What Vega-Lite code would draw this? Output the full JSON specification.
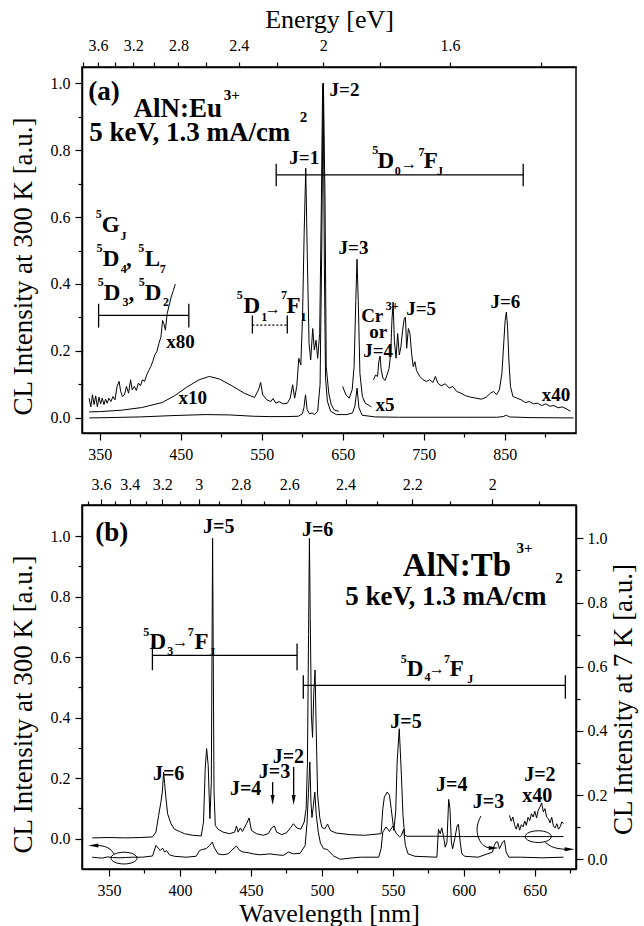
{
  "$schema": "https://vega.github.io/schema/vega-lite/v6.json",
  "padding": {"left": 8, "top": 5, "right": 2, "bottom": 5},
  "background": "white",
  "config": {
    "font": "Liberation Serif",
    "view": {"stroke": "black", "strokeWidth": 1.5},
    "axis": {"labelFontSize": 16, "titleFontSize": 26, "titleFontWeight": "normal", "labelFont": "Liberation Serif", "titleFont": "Liberation Serif", "domainColor": "black", "domainWidth": 1.5, "tickColor": "black", "tickWidth": 1.2, "labelColor": "black", "titleColor": "black", "grid": false},
    "text": {"font": "Liberation Serif", "fontWeight": "bold", "color": "black", "align": "left", "baseline": "middle"},
    "line": {"color": "black", "strokeWidth": 1},
    "rule": {"color": "black", "strokeWidth": 1.3}
  },
  "datasets": {
    "eu": [
      {"s":"x1","wl":337,"v":0},{"s":"x1","wl":360,"v":0.001},{"s":"x1","wl":400,"v":0.003},{"s":"x1","wl":440,"v":0.007},{"s":"x1","wl":480,"v":0.01},{"s":"x1","wl":510,"v":0.009},{"s":"x1","wl":540,"v":0.005},{"s":"x1","wl":560,"v":0.004},{"s":"x1","wl":580,"v":0.004},{"s":"x1","wl":595,"v":0.005},{"s":"x1","wl":600,"v":0.012},{"s":"x1","wl":602,"v":0.03},{"s":"x1","wl":604,"v":0.069},{"s":"x1","wl":606,"v":0.025},{"s":"x1","wl":609,"v":0.012},{"s":"x1","wl":612,"v":0.015},{"s":"x1","wl":615,"v":0.01},{"s":"x1","wl":619,"v":0.02},{"s":"x1","wl":622,"v":0.1},{"s":"x1","wl":624,"v":0.5},{"s":"x1","wl":625.8,"v":1.0},{"s":"x1","wl":627.3,"v":0.45},{"s":"x1","wl":628.7,"v":0.12},{"s":"x1","wl":631,"v":0.05},{"s":"x1","wl":635,"v":0.02},{"s":"x1","wl":642,"v":0.01},{"s":"x1","wl":655,"v":0.01},{"s":"x1","wl":662,"v":0.015},{"s":"x1","wl":665,"v":0.035},{"s":"x1","wl":667.6,"v":0.089},{"s":"x1","wl":670,"v":0.03},{"s":"x1","wl":674,"v":0.008},{"s":"x1","wl":690,"v":0.003},{"s":"x1","wl":720,"v":0.002},{"s":"x1","wl":760,"v":0.002},{"s":"x1","wl":800,"v":0.002},{"s":"x1","wl":840,"v":0.002},{"s":"x1","wl":848,"v":0.004},{"s":"x1","wl":852,"v":0.008},{"s":"x1","wl":856,"v":0.003},{"s":"x1","wl":880,"v":0.001},{"s":"x1","wl":935,"v":0},
      {"s":"x10","wl":336.8,"v":0.018},{"s":"x10","wl":351,"v":0.019},{"s":"x10","wl":376.3,"v":0.023},{"s":"x10","wl":401.7,"v":0.031},{"s":"x10","wl":427,"v":0.046},{"s":"x10","wl":442.2,"v":0.066},{"s":"x10","wl":457.4,"v":0.092},{"s":"x10","wl":472.6,"v":0.114},{"s":"x10","wl":485.3,"v":0.124},{"s":"x10","wl":497.9,"v":0.116},{"s":"x10","wl":513.1,"v":0.096},{"s":"x10","wl":528.3,"v":0.074},{"s":"x10","wl":541,"v":0.061},{"s":"x10","wl":546,"v":0.084},{"s":"x10","wl":548.6,"v":0.106},{"s":"x10","wl":551.1,"v":0.069},{"s":"x10","wl":556.2,"v":0.054},{"s":"x10","wl":561.2,"v":0.049},{"s":"x10","wl":563.8,"v":0.058},{"s":"x10","wl":567.3,"v":0.044},{"s":"x10","wl":571.4,"v":0.049},{"s":"x10","wl":576.4,"v":0.042},{"s":"x10","wl":581.5,"v":0.044},{"s":"x10","wl":585.1,"v":0.059},{"s":"x10","wl":588.1,"v":0.099},{"s":"x10","wl":590.6,"v":0.059},{"s":"x10","wl":593.2,"v":0.094},{"s":"x10","wl":595.7,"v":0.178},{"s":"x10","wl":598.2,"v":0.158},{"s":"x10","wl":600.3,"v":0.301},{"s":"x10","wl":602.3,"v":0.548},{"s":"x10","wl":604.3,"v":0.746},{"s":"x10","wl":606.3,"v":0.469},{"s":"x10","wl":608.4,"v":0.222},{"s":"x10","wl":610.4,"v":0.173},{"s":"x10","wl":612.9,"v":0.267},{"s":"x10","wl":614.9,"v":0.203},{"s":"x10","wl":617,"v":0.232},{"s":"x10","wl":619,"v":0.178},{"s":"x10","wl":621.5,"v":0.252},{"s":"x10","wl":623.6,"v":0.647},{"s":"x10","wl":625.1,"v":0.993},{"s":"x10","wl":626.1,"v":1.0},{"s":"x10","wl":628.1,"v":0.647},{"s":"x10","wl":629.6,"v":0.153},{"s":"x10","wl":632.7,"v":0.074},{"s":"x10","wl":635.7,"v":0.04},{"s":"x10","wl":639.8,"v":0.023},{"s":"x10","wl":645,"v":0.02},
      {"s":"x5","wl":649.9,"v":0.094},{"s":"x5","wl":653.9,"v":0.069},{"s":"x5","wl":658,"v":0.059},{"s":"x5","wl":661.6,"v":0.084},{"s":"x5","wl":664,"v":0.153},{"s":"x5","wl":666.1,"v":0.351},{"s":"x5","wl":667.6,"v":0.474},{"s":"x5","wl":669.1,"v":0.351},{"s":"x5","wl":671.2,"v":0.133},{"s":"x5","wl":674.2,"v":0.064},{"s":"x5","wl":677.8,"v":0.044},{"s":"x5","wl":682.8,"v":0.037},{"s":"x5","wl":685.4,"v":0.033},
      {"s":"x80","wl":336.8,"v":0.059},{"s":"x80","wl":338.9,"v":0.033},{"s":"x80","wl":340.9,"v":0.069},{"s":"x80","wl":342.9,"v":0.04},{"s":"x80","wl":344.9,"v":0.066},{"s":"x80","wl":347,"v":0.033},{"s":"x80","wl":349,"v":0.062},{"s":"x80","wl":351,"v":0.042},{"s":"x80","wl":353,"v":0.059},{"s":"x80","wl":355.1,"v":0.04},{"s":"x80","wl":357.1,"v":0.056},{"s":"x80","wl":359.1,"v":0.044},{"s":"x80","wl":361.1,"v":0.059},{"s":"x80","wl":363.7,"v":0.049},{"s":"x80","wl":366.2,"v":0.064},{"s":"x80","wl":368.7,"v":0.054},{"s":"x80","wl":371.3,"v":0.094},{"s":"x80","wl":373.8,"v":0.109},{"s":"x80","wl":375.8,"v":0.079},{"s":"x80","wl":377.9,"v":0.064},{"s":"x80","wl":380.4,"v":0.069},{"s":"x80","wl":382.9,"v":0.094},{"s":"x80","wl":385.5,"v":0.074},{"s":"x80","wl":388,"v":0.114},{"s":"x80","wl":390,"v":0.084},{"s":"x80","wl":392.6,"v":0.094},{"s":"x80","wl":395.1,"v":0.082},{"s":"x80","wl":397.6,"v":0.104},{"s":"x80","wl":400.2,"v":0.096},{"s":"x80","wl":402.7,"v":0.114},{"s":"x80","wl":405.2,"v":0.109},{"s":"x80","wl":407.8,"v":0.128},{"s":"x80","wl":410.3,"v":0.141},{"s":"x80","wl":412.8,"v":0.153},{"s":"x80","wl":415.3,"v":0.168},{"s":"x80","wl":417.9,"v":0.188},{"s":"x80","wl":420.4,"v":0.198},{"s":"x80","wl":422.9,"v":0.222},{"s":"x80","wl":425.5,"v":0.242},{"s":"x80","wl":427.5,"v":0.291},{"s":"x80","wl":429,"v":0.282},{"s":"x80","wl":431,"v":0.262},{"s":"x80","wl":433.1,"v":0.311},{"s":"x80","wl":435.6,"v":0.336},{"s":"x80","wl":438.1,"v":0.361},{"s":"x80","wl":440.7,"v":0.38},{"s":"x80","wl":443.2,"v":0.4},
      {"s":"x40","wl":687.9,"v":0.114},{"s":"x40","wl":690.4,"v":0.128},{"s":"x40","wl":693,"v":0.124},{"s":"x40","wl":694.5,"v":0.168},{"s":"x40","wl":696,"v":0.185},{"s":"x40","wl":697.5,"v":0.143},{"s":"x40","wl":699.6,"v":0.119},{"s":"x40","wl":702.1,"v":0.112},{"s":"x40","wl":704.6,"v":0.128},{"s":"x40","wl":707.2,"v":0.148},{"s":"x40","wl":709.2,"v":0.193},{"s":"x40","wl":710.7,"v":0.291},{"s":"x40","wl":712.2,"v":0.346},{"s":"x40","wl":713.7,"v":0.232},{"s":"x40","wl":715.8,"v":0.178},{"s":"x40","wl":717.8,"v":0.252},{"s":"x40","wl":719.8,"v":0.188},{"s":"x40","wl":721.8,"v":0.212},{"s":"x40","wl":723.9,"v":0.262},{"s":"x40","wl":725.9,"v":0.296},{"s":"x40","wl":727.4,"v":0.301},{"s":"x40","wl":728.9,"v":0.208},{"s":"x40","wl":731,"v":0.267},{"s":"x40","wl":733,"v":0.252},{"s":"x40","wl":735,"v":0.193},{"s":"x40","wl":737,"v":0.153},{"s":"x40","wl":739.1,"v":0.168},{"s":"x40","wl":741.1,"v":0.141},{"s":"x40","wl":745.1,"v":0.124},{"s":"x40","wl":749.2,"v":0.114},{"s":"x40","wl":753.2,"v":0.109},{"s":"x40","wl":757.3,"v":0.114},{"s":"x40","wl":761.3,"v":0.106},{"s":"x40","wl":764.4,"v":0.124},{"s":"x40","wl":767.4,"v":0.104},{"s":"x40","wl":771.5,"v":0.096},{"s":"x40","wl":776.5,"v":0.102},{"s":"x40","wl":781.6,"v":0.089},{"s":"x40","wl":785.7,"v":0.094},{"s":"x40","wl":790.7,"v":0.079},{"s":"x40","wl":795.8,"v":0.074},{"s":"x40","wl":801.9,"v":0.066},{"s":"x40","wl":808,"v":0.062},{"s":"x40","wl":814.5,"v":0.059},{"s":"x40","wl":821.1,"v":0.056},{"s":"x40","wl":827.2,"v":0.062},{"s":"x40","wl":832.3,"v":0.074},{"s":"x40","wl":836.3,"v":0.079},{"s":"x40","wl":839.9,"v":0.069},{"s":"x40","wl":843.4,"v":0.084},{"s":"x40","wl":846.5,"v":0.133},{"s":"x40","wl":848.5,"v":0.212},{"s":"x40","wl":850.5,"v":0.291},{"s":"x40","wl":852,"v":0.316},{"s":"x40","wl":853.5,"v":0.272},{"s":"x40","wl":855.1,"v":0.173},{"s":"x40","wl":857.1,"v":0.094},{"s":"x40","wl":860.1,"v":0.064},{"s":"x40","wl":865.2,"v":0.059},{"s":"x40","wl":870.3,"v":0.054},{"s":"x40","wl":875.3,"v":0.046},{"s":"x40","wl":880.4,"v":0.049},{"s":"x40","wl":885.5,"v":0.042},{"s":"x40","wl":890.5,"v":0.044},{"s":"x40","wl":895.6,"v":0.037},{"s":"x40","wl":900.7,"v":0.042},{"s":"x40","wl":905.7,"v":0.035},{"s":"x40","wl":910.8,"v":0.037},{"s":"x40","wl":915.9,"v":0.03},{"s":"x40","wl":920.9,"v":0.033},{"s":"x40","wl":926,"v":0.027},{"s":"x40","wl":931.1,"v":0.02}
    ],
    "euT": [
      {"r":"big","x":335.8,"y":0.973,"t":"(a)"},{"r":"big","x":391.5,"y":0.924,"t":"AlN:Eu"},{"r":"big","x":336.8,"y":0.85,"t":"5 keV, 1.3 mA/cm"},
      {"r":"bsup","x":503,"y":0.965,"t":"3+"},{"r":"bsup","x":597,"y":0.9,"t":"2"},
      {"r":"lab","x":633.7,"y":0.978,"t":"J=2"},{"r":"lab","x":584,"y":0.776,"t":"J=1"},{"r":"lab","x":644.8,"y":0.507,"t":"J=3"},{"r":"lab","x":728.4,"y":0.326,"t":"J=5"},{"r":"lab","x":832.3,"y":0.346,"t":"J=6"},{"r":"lab","x":675.2,"y":0.2,"t":"J=4"},{"r":"lab","x":682.8,"y":0.256,"t":"or"},{"r":"lab","x":672.7,"y":0.303,"t":"Cr"},{"r":"lab","x":432,"y":0.227,"t":"x80"},{"r":"lab","x":447.3,"y":0.059,"t":"x10"},{"r":"lab","x":895.6,"y":0.069,"t":"x40"},{"r":"lab","x":690.4,"y":0.04,"t":"x5"},
      {"r":"term","x":693,"y":0.768,"t":"D"},{"r":"term","x":750,"y":0.768,"t":"F"},{"r":"term","x":352.5,"y":0.576,"t":"G"},{"r":"term","x":353.5,"y":0.474,"t":"D"},{"r":"term","x":382.4,"y":0.474,"t":","},{"r":"term","x":405.5,"y":0.474,"t":"L"},{"r":"term","x":355,"y":0.374,"t":"D"},{"r":"term","x":385.5,"y":0.374,"t":","},{"r":"term","x":405.5,"y":0.374,"t":"D"},{"r":"term","x":527.5,"y":0.334,"t":"D"},{"r":"term","x":580.5,"y":0.334,"t":"F"},
      {"r":"arr","x":721.8,"y":0.758,"t":"→"},{"r":"arr","x":553.6,"y":0.326,"t":"→"},
      {"r":"sm","x":686.4,"y":0.8,"t":"5"},{"r":"sm","x":714.2,"y":0.736,"t":"0"},{"r":"sm","x":743.5,"y":0.795,"t":"7"},{"r":"sm","x":766.5,"y":0.736,"t":"J"},{"r":"sm","x":344.9,"y":0.608,"t":"5"},{"r":"sm","x":375.5,"y":0.543,"t":"J"},{"r":"sm","x":346,"y":0.507,"t":"5"},{"r":"sm","x":376,"y":0.445,"t":"4"},{"r":"sm","x":397.6,"y":0.507,"t":"5"},{"r":"sm","x":424,"y":0.445,"t":"7"},{"r":"sm","x":347.5,"y":0.405,"t":"5"},{"r":"sm","x":378,"y":0.346,"t":"3"},{"r":"sm","x":398.1,"y":0.405,"t":"5"},{"r":"sm","x":428,"y":0.346,"t":"2"},{"r":"sm","x":519.2,"y":0.366,"t":"5"},{"r":"sm","x":549.3,"y":0.301,"t":"1"},{"r":"sm","x":573.8,"y":0.366,"t":"7"},{"r":"sm","x":597.8,"y":0.301,"t":"1"},{"r":"sm","x":703.1,"y":0.333,"t":"3+"}
    ],
    "euBr": [{"x1":567.8,"x2":872.8,"y":0.726},{"x1":348.5,"x2":459.9,"y":0.306}],
    "euBrDot": [{"x1":538.4,"x2":581.5,"y":0.277}],
    "euCap": [{"x":567.8,"y1":0.692,"y2":0.759},{"x":872.8,"y1":0.692,"y2":0.759},{"x":348.5,"y1":0.27,"y2":0.341},{"x":459.9,"y1":0.27,"y2":0.341},{"x":538.4,"y1":0.252,"y2":0.306},{"x":581.5,"y1":0.252,"y2":0.306}],
    "tb300": [
      {"wl":338.2,"v":-0.061},{"wl":342,"v":-0.063},{"wl":345.3,"v":-0.064},{"wl":349,"v":-0.06},{"wl":352.4,"v":-0.062},{"wl":357,"v":-0.063},{"wl":361.8,"v":-0.062},{"wl":367,"v":-0.061},{"wl":373.6,"v":-0.061},{"wl":380.7,"v":-0.057},{"wl":383.1,"v":-0.022},{"wl":384.7,"v":-0.031},{"wl":386.1,"v":-0.039},{"wl":387.8,"v":-0.031},{"wl":389.2,"v":-0.044},{"wl":390.6,"v":-0.039},{"wl":392.5,"v":-0.053},{"wl":396.1,"v":-0.058},{"wl":404.3,"v":-0.061},{"wl":411.4,"v":-0.058},{"wl":413.8,"v":-0.039},{"wl":416.1,"v":-0.035},{"wl":418.5,"v":-0.033},{"wl":420.9,"v":-0.022},{"wl":422.8,"v":-0.011},{"wl":424.4,"v":-0.031},{"wl":426.8,"v":-0.05},{"wl":430.3,"v":-0.053},{"wl":433.9,"v":-0.05},{"wl":436.2,"v":-0.039},{"wl":439.8,"v":-0.024},{"wl":442.1,"v":-0.039},{"wl":444.5,"v":-0.044},{"wl":448,"v":-0.046},{"wl":451.6,"v":-0.05},{"wl":456.3,"v":-0.053},{"wl":463.4,"v":-0.05},{"wl":468.1,"v":-0.053},{"wl":472.8,"v":-0.055},{"wl":476.4,"v":-0.044},{"wl":479.9,"v":-0.05},{"wl":484.7,"v":-0.048},{"wl":488.2,"v":-0.022},{"wl":489.5,"v":0.05},{"wl":490.5,"v":0.15},{"wl":491.5,"v":0.254},{"wl":492.3,"v":0.12},{"wl":493,"v":0.07},{"wl":494,"v":0.11},{"wl":495,"v":0.154},{"wl":496,"v":0.08},{"wl":497.5,"v":0.02},{"wl":499,"v":-0.015},{"wl":501.2,"v":-0.033},{"wl":503.6,"v":-0.035},{"wl":508.3,"v":-0.057},{"wl":513,"v":-0.068},{"wl":517.7,"v":-0.065},{"wl":527,"v":-0.061},{"wl":540,"v":-0.061},{"wl":541.7,"v":-0.033},{"wl":542.9,"v":0.022},{"wl":545.2,"v":0.039},{"wl":547.6,"v":0.024},{"wl":550,"v":0.042},{"wl":552.4,"v":0.017},{"wl":554.8,"v":0.006},{"wl":556,"v":0.011},{"wl":557.6,"v":0.031},{"wl":558.8,"v":-0.022},{"wl":560.7,"v":-0.05},{"wl":565.5,"v":-0.058},{"wl":581,"v":-0.061},{"wl":582.1,"v":0.031},{"wl":583.3,"v":0.017},{"wl":584.5,"v":0.036},{"wl":585.7,"v":0.006},{"wl":586.9,"v":-0.028},{"wl":588.1,"v":-0.011},{"wl":589.3,"v":0.13},{"wl":590.2,"v":0.1},{"wl":591.2,"v":-0.011},{"wl":592.1,"v":-0.033},{"wl":593.6,"v":0},{"wl":595.2,"v":0.042},{"wl":596.2,"v":0.048},{"wl":597.4,"v":-0.011},{"wl":598.6,"v":-0.05},{"wl":600.7,"v":-0.058},{"wl":610,"v":-0.061},{"wl":620.2,"v":-0.044},{"wl":621.4,"v":-0.022},{"wl":622.6,"v":-0.011},{"wl":623.8,"v":-0.01},{"wl":625.1,"v":-0.033},{"wl":626.4,"v":-0.02},{"wl":627.3,"v":-0.011},{"wl":628.6,"v":-0.006},{"wl":629.8,"v":-0.044},{"wl":631.7,"v":-0.061},{"wl":640,"v":-0.061},{"wl":655,"v":-0.063},{"wl":670.2,"v":-0.061}
    ],
    "tb7": [
      {"s":"x1","wl":338.2,"v":0.067},{"s":"x1","wl":350,"v":0.068},{"s":"x1","wl":361.8,"v":0.067},{"s":"x1","wl":372,"v":0.068},{"s":"x1","wl":380.7,"v":0.07},{"s":"x1","wl":383.1,"v":0.085},{"s":"x1","wl":385,"v":0.137},{"s":"x1","wl":386.6,"v":0.179},{"s":"x1","wl":387.6,"v":0.21},{"s":"x1","wl":388.5,"v":0.272},{"s":"x1","wl":389.2,"v":0.236},{"s":"x1","wl":390.2,"v":0.189},{"s":"x1","wl":391.3,"v":0.142},{"s":"x1","wl":393.7,"v":0.111},{"s":"x1","wl":396.1,"v":0.094},{"s":"x1","wl":399.6,"v":0.087},{"s":"x1","wl":403.2,"v":0.08},{"s":"x1","wl":409.1,"v":0.075},{"s":"x1","wl":415,"v":0.073},{"s":"x1","wl":416.6,"v":0.116},{"s":"x1","wl":417.8,"v":0.283},{"s":"x1","wl":418.8,"v":0.345},{"s":"x1","wl":419.9,"v":0.293},{"s":"x1","wl":421.1,"v":0.127},{"s":"x1","wl":422.1,"v":0.24},{"s":"x1","wl":423,"v":1.0},{"s":"x1","wl":424,"v":0.21},{"s":"x1","wl":424.9,"v":0.106},{"s":"x1","wl":426.8,"v":0.094},{"s":"x1","wl":430.3,"v":0.085},{"s":"x1","wl":435,"v":0.08},{"s":"x1","wl":438.6,"v":0.085},{"s":"x1","wl":439.8,"v":0.104},{"s":"x1","wl":441,"v":0.085},{"s":"x1","wl":442.6,"v":0.098},{"s":"x1","wl":444,"v":0.087},{"s":"x1","wl":446.9,"v":0.111},{"s":"x1","wl":448.7,"v":0.129},{"s":"x1","wl":450.4,"v":0.09},{"s":"x1","wl":453.9,"v":0.08},{"s":"x1","wl":458.7,"v":0.075},{"s":"x1","wl":462.2,"v":0.08},{"s":"x1","wl":464.6,"v":0.098},{"s":"x1","wl":466.5,"v":0.104},{"s":"x1","wl":468.1,"v":0.085},{"s":"x1","wl":471.7,"v":0.077},{"s":"x1","wl":475.2,"v":0.083},{"s":"x1","wl":478.1,"v":0.1},{"s":"x1","wl":479.9,"v":0.111},{"s":"x1","wl":482.3,"v":0.098},{"s":"x1","wl":485.1,"v":0.094},{"s":"x1","wl":487.5,"v":0.116},{"s":"x1","wl":488.9,"v":0.158},{"s":"x1","wl":489.8,"v":0.3},{"s":"x1","wl":490.6,"v":0.7},{"s":"x1","wl":491.2,"v":1.0},{"s":"x1","wl":491.8,"v":0.75},{"s":"x1","wl":492.6,"v":0.45},{"s":"x1","wl":493.4,"v":0.38},{"s":"x1","wl":494.3,"v":0.52},{"s":"x1","wl":495.2,"v":0.59},{"s":"x1","wl":496,"v":0.4},{"s":"x1","wl":497,"v":0.2},{"s":"x1","wl":498.5,"v":0.13},{"s":"x1","wl":500,"v":0.1},{"s":"x1","wl":502,"v":0.095},{"s":"x1","wl":504,"v":0.11},{"s":"x1","wl":506,"v":0.09},{"s":"x1","wl":510,"v":0.082},{"s":"x1","wl":520,"v":0.077},{"s":"x1","wl":530,"v":0.075},{"s":"x1","wl":541.7,"v":0.08},{"s":"x1","wl":542.9,"v":0.158},{"s":"x1","wl":544,"v":0.194},{"s":"x1","wl":546,"v":0.21},{"s":"x1","wl":547.6,"v":0.2},{"s":"x1","wl":548.8,"v":0.158},{"s":"x1","wl":550.7,"v":0.09},{"s":"x1","wl":552,"v":0.15},{"s":"x1","wl":553,"v":0.303},{"s":"x1","wl":554.5,"v":0.407},{"s":"x1","wl":556,"v":0.262},{"s":"x1","wl":557.1,"v":0.138},{"s":"x1","wl":558.3,"v":0.076},{"s":"x1","wl":560,"v":0.072},{"s":"x1","wl":580,"v":0.072},{"s":"x1","wl":600,"v":0.071},{"s":"x1","wl":620,"v":0.071},{"s":"x1","wl":640,"v":0.071},{"s":"x1","wl":660,"v":0.071},{"s":"x1","wl":670.2,"v":0.071},
      {"s":"x40","wl":632.1,"v":0.137},{"s":"x40","wl":633.3,"v":0.119},{"s":"x40","wl":634.5,"v":0.132},{"s":"x40","wl":635.7,"v":0.108},{"s":"x40","wl":636.9,"v":0.094},{"s":"x40","wl":638.1,"v":0.112},{"s":"x40","wl":639.3,"v":0.091},{"s":"x40","wl":640.5,"v":0.108},{"s":"x40","wl":641.7,"v":0.101},{"s":"x40","wl":642.9,"v":0.119},{"s":"x40","wl":644,"v":0.106},{"s":"x40","wl":645.2,"v":0.131},{"s":"x40","wl":646.4,"v":0.121},{"s":"x40","wl":647.6,"v":0.142},{"s":"x40","wl":648.8,"v":0.132},{"s":"x40","wl":650,"v":0.15},{"s":"x40","wl":651.2,"v":0.129},{"s":"x40","wl":652.4,"v":0.153},{"s":"x40","wl":653.6,"v":0.163},{"s":"x40","wl":654.8,"v":0.176},{"s":"x40","wl":656,"v":0.148},{"s":"x40","wl":657.1,"v":0.158},{"s":"x40","wl":658.3,"v":0.132},{"s":"x40","wl":659.5,"v":0.127},{"s":"x40","wl":660.7,"v":0.114},{"s":"x40","wl":661.9,"v":0.131},{"s":"x40","wl":663.1,"v":0.104},{"s":"x40","wl":664.3,"v":0.098},{"s":"x40","wl":665.5,"v":0.111},{"s":"x40","wl":666.7,"v":0.094},{"s":"x40","wl":667.9,"v":0.102},{"s":"x40","wl":669,"v":0.117},{"s":"x40","wl":670.2,"v":0.111}
    ],
    "tbT": [
      {"r":"big","x":340.3,"y":1.009,"t":"(b)"},{"r":"huge","x":557,"y":0.9,"t":"AlN:Tb"},{"r":"big","x":516.4,"y":0.8,"t":"5 keV, 1.3 mA/cm"},
      {"r":"bsup","x":637,"y":0.96,"t":"3+"},{"r":"bsup","x":664.3,"y":0.862,"t":"2"},
      {"r":"lab","x":416.3,"y":1.031,"t":"J=5"},{"r":"lab","x":485.9,"y":1.02,"t":"J=6"},{"r":"lab","x":381,"y":0.215,"t":"J=6"},{"r":"lab","x":435.2,"y":0.165,"t":"J=4"},{"r":"lab","x":455.5,"y":0.22,"t":"J=3"},{"r":"lab","x":465.3,"y":0.27,"t":"J=2"},{"r":"lab","x":548.2,"y":0.386,"t":"J=5"},{"r":"lab","x":580.4,"y":0.176,"t":"J=4"},{"r":"lab","x":606.3,"y":0.121,"t":"J=3"},{"r":"lab","x":642.5,"y":0.212,"t":"J=2"},{"r":"lab","x":641.1,"y":0.14,"t":"x40"},
      {"r":"term","x":378.6,"y":0.65,"t":"D"},{"r":"term","x":410.2,"y":0.65,"t":"F"},{"r":"term","x":559.8,"y":0.562,"t":"D"},{"r":"term","x":590,"y":0.562,"t":"F"},
      {"r":"arr","x":394.5,"y":0.65,"t":"→"},{"r":"arr","x":575.3,"y":0.562,"t":"→"},
      {"r":"sm","x":374.2,"y":0.684,"t":"5"},{"r":"sm","x":391.1,"y":0.62,"t":"3"},{"r":"sm","x":405.5,"y":0.684,"t":"7"},{"r":"sm","x":420.6,"y":0.617,"t":"J"},{"r":"sm","x":555.5,"y":0.595,"t":"5"},{"r":"sm","x":572.3,"y":0.535,"t":"4"},{"r":"sm","x":586,"y":0.595,"t":"7"},{"r":"sm","x":602.4,"y":0.529,"t":"J"}
    ],
    "tbBr": [{"x1":380.6,"x2":482.5,"y":0.606},{"x1":486.9,"x2":671.5,"y":0.507}],
    "tbCap": [{"x":380.6,"y1":0.557,"y2":0.645},{"x":482.5,"y1":0.557,"y2":0.645},{"x":486.9,"y1":0.463,"y2":0.54},{"x":671.5,"y1":0.463,"y2":0.54},{"x":465.3,"y1":0.135,"y2":0.187},{"x":480.1,"y1":0.135,"y2":0.237}],
    "tbArr": [
      {"id":"L","i":0,"x":353.5,"y":-0.05},{"id":"L","i":1,"x":351,"y":-0.033},{"id":"L","i":2,"x":347,"y":-0.025},{"id":"L","i":3,"x":343,"y":-0.022},{"id":"L","i":4,"x":340,"y":-0.022},
      {"id":"J3","i":0,"x":612,"y":0.075},{"id":"J3","i":1,"x":609.5,"y":0.05},{"id":"J3","i":2,"x":609,"y":0.02},{"id":"J3","i":3,"x":611,"y":-0.008},{"id":"J3","i":4,"x":614,"y":-0.024},{"id":"J3","i":5,"x":617,"y":-0.03},{"id":"J3","i":6,"x":620,"y":-0.031},
      {"id":"R","i":0,"x":657.1,"y":-0.011},{"id":"R","i":1,"x":660,"y":-0.022},{"id":"R","i":2,"x":663,"y":-0.029},{"id":"R","i":3,"x":667.9,"y":-0.034},{"id":"R","i":4,"x":673,"y":-0.035}
    ],
    "tbHead": [{"x":339,"y":-0.022,"d":"left"},{"x":621,"y":-0.031,"d":"right"},{"x":674.5,"y":-0.035,"d":"right"},{"x":465.3,"y":0.128,"d":"down"},{"x":480.1,"y":0.128,"d":"down"}],
    "tbEll": [{"x":360.6,"y":-0.064},{"x":652.4,"y":0.007}]
  },
  "spacing": 72,
  "bounds": "flush",
  "vconcat": [
    {
      "width": 494,
      "height": 366,
      "resolve": {"axis": {"x": "independent", "y": "independent"}},
      "layer": [
        {
          "data": {"name": "eu"},
          "mark": {"type": "line", "strokeWidth": 1},
          "encoding": {
            "x": {"field": "wl", "type": "quantitative", "scale": {"domain": [328, 938], "nice": false, "zero": false},
              "axis": {"orient": "bottom", "title": null, "values": [350,400,450,500,550,600,650,700,750,800,850,900], "labelExpr": "datum.value % 100 == 50 ? datum.label : ''", "tickSize": {"condition": {"test": "datum.value % 100 == 50", "value": 7}, "value": 4}, "labelPadding": 6}},
            "y": {"field": "v", "type": "quantitative", "scale": {"domain": [-0.045, 1.048], "nice": false, "zero": false},
              "axis": {"orient": "left", "title": "CL Intensity at 300 K [a.u.]", "titleFontSize": 27, "values": [0,0.1,0.2,0.3,0.4,0.5,0.6,0.7,0.8,0.9,1.0], "format": ".1f", "labelExpr": "round(datum.value*10) % 2 == 0 ? datum.label : ''", "tickSize": {"condition": {"test": "round(datum.value*10) % 2 == 0", "value": 7}, "value": 4}, "labelPadding": 5, "titlePadding": 13, "titleY": 199}},
            "detail": {"field": "s"}
          }
        },
        {
          "data": {"name": "euBr"},
          "mark": {"type": "rule"},
          "encoding": {
            "x": {"field": "x1", "type": "quantitative", "scale": {"domain": [328, 938], "nice": false, "zero": false},
              "axis": {"orient": "top", "title": "Energy [eV]", "values": [329.47,347.78,368.24,391.25,417.33,447.14,481.54,521.67,569.09,626.0,695.56,782.5,894.29], "labelExpr": "round(12520/datum.value) % 4 == 0 ? format(round(12520/datum.value)/10, '~g') : ''", "tickSize": 5, "labelPadding": 9, "titlePadding": 5}},
            "x2": {"field": "x2"},
            "y": {"field": "y", "type": "quantitative", "scale": {"domain": [-0.045, 1.048], "nice": false, "zero": false}, "axis": null}
          }
        },
        {
          "data": {"name": "euBrDot"},
          "mark": {"type": "rule", "strokeDash": [2, 2]},
          "encoding": {
            "x": {"field": "x1", "type": "quantitative", "scale": {"domain": [328, 938], "nice": false, "zero": false}, "axis": null},
            "x2": {"field": "x2"},
            "y": {"field": "y", "type": "quantitative", "scale": {"domain": [-0.045, 1.048], "nice": false, "zero": false}, "axis": null}
          }
        },
        {
          "data": {"name": "euCap"},
          "mark": {"type": "rule"},
          "encoding": {
            "x": {"field": "x", "type": "quantitative", "scale": {"domain": [328, 938], "nice": false, "zero": false}, "axis": null},
            "y": {"field": "y1", "type": "quantitative", "scale": {"domain": [-0.045, 1.048], "nice": false, "zero": false}, "axis": null},
            "y2": {"field": "y2"}
          }
        },
        {"data": {"name": "euT"}, "transform": [{"filter": "datum.r == 'big'"}], "mark": {"type": "text", "fontSize": 27},
          "encoding": {"x": {"field": "x", "type": "quantitative", "scale": {"domain": [328, 938], "nice": false, "zero": false}, "axis": null}, "y": {"field": "y", "type": "quantitative", "scale": {"domain": [-0.045, 1.048], "nice": false, "zero": false}, "axis": null}, "text": {"field": "t"}}},
        {"data": {"name": "euT"}, "transform": [{"filter": "datum.r == 'bsup'"}], "mark": {"type": "text", "fontSize": 15},
          "encoding": {"x": {"field": "x", "type": "quantitative", "scale": {"domain": [328, 938], "nice": false, "zero": false}, "axis": null}, "y": {"field": "y", "type": "quantitative", "scale": {"domain": [-0.045, 1.048], "nice": false, "zero": false}, "axis": null}, "text": {"field": "t"}}},
        {"data": {"name": "euT"}, "transform": [{"filter": "datum.r == 'lab'"}], "mark": {"type": "text", "fontSize": 19},
          "encoding": {"x": {"field": "x", "type": "quantitative", "scale": {"domain": [328, 938], "nice": false, "zero": false}, "axis": null}, "y": {"field": "y", "type": "quantitative", "scale": {"domain": [-0.045, 1.048], "nice": false, "zero": false}, "axis": null}, "text": {"field": "t"}}},
        {"data": {"name": "euT"}, "transform": [{"filter": "datum.r == 'term'"}], "mark": {"type": "text", "fontSize": 23},
          "encoding": {"x": {"field": "x", "type": "quantitative", "scale": {"domain": [328, 938], "nice": false, "zero": false}, "axis": null}, "y": {"field": "y", "type": "quantitative", "scale": {"domain": [-0.045, 1.048], "nice": false, "zero": false}, "axis": null}, "text": {"field": "t"}}},
        {"data": {"name": "euT"}, "transform": [{"filter": "datum.r == 'arr'"}], "mark": {"type": "text", "fontSize": 16},
          "encoding": {"x": {"field": "x", "type": "quantitative", "scale": {"domain": [328, 938], "nice": false, "zero": false}, "axis": null}, "y": {"field": "y", "type": "quantitative", "scale": {"domain": [-0.045, 1.048], "nice": false, "zero": false}, "axis": null}, "text": {"field": "t"}}},
        {"data": {"name": "euT"}, "transform": [{"filter": "datum.r == 'sm'"}], "mark": {"type": "text", "fontSize": 12},
          "encoding": {"x": {"field": "x", "type": "quantitative", "scale": {"domain": [328, 938], "nice": false, "zero": false}, "axis": null}, "y": {"field": "y", "type": "quantitative", "scale": {"domain": [-0.045, 1.048], "nice": false, "zero": false}, "axis": null}, "text": {"field": "t"}}}
      ]
    },
    {
      "width": 494,
      "height": 364,
      "resolve": {"scale": {"y": "independent"}, "axis": {"x": "independent", "y": "independent"}},
      "layer": [
        {
          "resolve": {"axis": {"x": "independent", "y": "independent"}},
          "layer": [
            {
              "data": {"name": "tb300"},
              "mark": {"type": "line", "strokeWidth": 1},
              "encoding": {
                "x": {"field": "wl", "type": "quantitative", "scale": {"domain": [331, 679], "nice": false, "zero": false},
                  "axis": {"orient": "bottom", "title": "Wavelength [nm]", "values": [350,375,400,425,450,475,500,525,550,575,600,625,650,675], "labelExpr": "datum.value % 50 == 0 ? datum.label : ''", "tickSize": {"condition": {"test": "datum.value % 50 == 0", "value": 7}, "value": 4}, "labelPadding": 6, "titlePadding": 2}},
                "y": {"field": "v", "type": "quantitative", "scale": {"domain": [-0.1, 1.103], "nice": false, "zero": false},
                  "axis": {"orient": "left", "title": "CL Intensity at 300 K [a.u.]", "titleFontSize": 27, "values": [0,0.1,0.2,0.3,0.4,0.5,0.6,0.7,0.8,0.9,1.0], "format": ".1f", "labelExpr": "round(datum.value*10) % 2 == 0 ? datum.label : ''", "tickSize": {"condition": {"test": "round(datum.value*10) % 2 == 0", "value": 7}, "value": 4}, "labelPadding": 5, "titlePadding": 13, "titleY": 199}}
              }
            },
            {
              "data": {"name": "tbBr"},
              "mark": {"type": "rule"},
              "encoding": {
                "x": {"field": "x1", "type": "quantitative", "scale": {"domain": [331, 679], "nice": false, "zero": false},
                  "axis": {"orient": "top", "title": null, "values": [335.14,344.44,354.29,364.71,375.76,387.5,400.0,413.33,427.59,442.86,459.26,476.92,496.0,516.67,539.13,563.64,590.48,620.0,652.63], "labelExpr": "round(12400/datum.value) % 2 == 0 && round(12400/datum.value) <= 36 ? format(round(12400/datum.value)/10, '~g') : ''", "tickSize": {"condition": {"test": "round(12400/datum.value) % 2 == 0", "value": 6}, "value": 4}, "labelPadding": 7}},
                "x2": {"field": "x2"},
                "y": {"field": "y", "type": "quantitative", "scale": {"domain": [-0.1, 1.103], "nice": false, "zero": false}, "axis": null}
              }
            },
            {
              "data": {"name": "tbCap"},
              "mark": {"type": "rule"},
              "encoding": {
                "x": {"field": "x", "type": "quantitative", "scale": {"domain": [331, 679], "nice": false, "zero": false}, "axis": null},
                "y": {"field": "y1", "type": "quantitative", "scale": {"domain": [-0.1, 1.103], "nice": false, "zero": false}, "axis": null},
                "y2": {"field": "y2"}
              }
            },
            {
              "data": {"name": "tbArr"},
              "mark": {"type": "line", "strokeWidth": 1, "interpolate": "basis"},
              "encoding": {
                "x": {"field": "x", "type": "quantitative", "scale": {"domain": [331, 679], "nice": false, "zero": false}, "axis": null},
                "y": {"field": "y", "type": "quantitative", "scale": {"domain": [-0.1, 1.103], "nice": false, "zero": false}, "axis": null},
                "detail": {"field": "id"},
                "order": {"field": "i"}
              }
            },
            {
              "data": {"name": "tbHead"},
              "mark": {"type": "point", "filled": true, "size": 100, "color": "black", "opacity": 1},
              "encoding": {
                "x": {"field": "x", "type": "quantitative", "scale": {"domain": [331, 679], "nice": false, "zero": false}, "axis": null},
                "y": {"field": "y", "type": "quantitative", "scale": {"domain": [-0.1, 1.103], "nice": false, "zero": false}, "axis": null},
                "shape": {"field": "d", "type": "nominal", "scale": {"domain": ["left", "right", "down"], "range": ["M -1 0 L 1 -0.4 L 1 0.4 Z", "M 1 0 L -1 -0.4 L -1 0.4 Z", "M 0 1 L -0.4 -1 L 0.4 -1 Z"]}, "legend": null}
              }
            },
            {
              "data": {"name": "tbEll"},
              "mark": {"type": "point", "filled": false, "size": 680, "color": "black", "strokeWidth": 1, "opacity": 1, "shape": "M -1 0 A 1 0.45 0 1 1 1 0 A 1 0.45 0 1 1 -1 0 Z"},
              "encoding": {
                "x": {"field": "x", "type": "quantitative", "scale": {"domain": [331, 679], "nice": false, "zero": false}, "axis": null},
                "y": {"field": "y", "type": "quantitative", "scale": {"domain": [-0.1, 1.103], "nice": false, "zero": false}, "axis": null}
              }
            },
            {"data": {"name": "tbT"}, "transform": [{"filter": "datum.r == 'big'"}], "mark": {"type": "text", "fontSize": 27},
              "encoding": {"x": {"field": "x", "type": "quantitative", "scale": {"domain": [331, 679], "nice": false, "zero": false}, "axis": null}, "y": {"field": "y", "type": "quantitative", "scale": {"domain": [-0.1, 1.103], "nice": false, "zero": false}, "axis": null}, "text": {"field": "t"}}},
            {"data": {"name": "tbT"}, "transform": [{"filter": "datum.r == 'huge'"}], "mark": {"type": "text", "fontSize": 33},
              "encoding": {"x": {"field": "x", "type": "quantitative", "scale": {"domain": [331, 679], "nice": false, "zero": false}, "axis": null}, "y": {"field": "y", "type": "quantitative", "scale": {"domain": [-0.1, 1.103], "nice": false, "zero": false}, "axis": null}, "text": {"field": "t"}}},
            {"data": {"name": "tbT"}, "transform": [{"filter": "datum.r == 'bsup'"}], "mark": {"type": "text", "fontSize": 15},
              "encoding": {"x": {"field": "x", "type": "quantitative", "scale": {"domain": [331, 679], "nice": false, "zero": false}, "axis": null}, "y": {"field": "y", "type": "quantitative", "scale": {"domain": [-0.1, 1.103], "nice": false, "zero": false}, "axis": null}, "text": {"field": "t"}}},
            {"data": {"name": "tbT"}, "transform": [{"filter": "datum.r == 'lab'"}], "mark": {"type": "text", "fontSize": 20},
              "encoding": {"x": {"field": "x", "type": "quantitative", "scale": {"domain": [331, 679], "nice": false, "zero": false}, "axis": null}, "y": {"field": "y", "type": "quantitative", "scale": {"domain": [-0.1, 1.103], "nice": false, "zero": false}, "axis": null}, "text": {"field": "t"}}},
            {"data": {"name": "tbT"}, "transform": [{"filter": "datum.r == 'term'"}], "mark": {"type": "text", "fontSize": 23},
              "encoding": {"x": {"field": "x", "type": "quantitative", "scale": {"domain": [331, 679], "nice": false, "zero": false}, "axis": null}, "y": {"field": "y", "type": "quantitative", "scale": {"domain": [-0.1, 1.103], "nice": false, "zero": false}, "axis": null}, "text": {"field": "t"}}},
            {"data": {"name": "tbT"}, "transform": [{"filter": "datum.r == 'arr'"}], "mark": {"type": "text", "fontSize": 16},
              "encoding": {"x": {"field": "x", "type": "quantitative", "scale": {"domain": [331, 679], "nice": false, "zero": false}, "axis": null}, "y": {"field": "y", "type": "quantitative", "scale": {"domain": [-0.1, 1.103], "nice": false, "zero": false}, "axis": null}, "text": {"field": "t"}}},
            {"data": {"name": "tbT"}, "transform": [{"filter": "datum.r == 'sm'"}], "mark": {"type": "text", "fontSize": 12},
              "encoding": {"x": {"field": "x", "type": "quantitative", "scale": {"domain": [331, 679], "nice": false, "zero": false}, "axis": null}, "y": {"field": "y", "type": "quantitative", "scale": {"domain": [-0.1, 1.103], "nice": false, "zero": false}, "axis": null}, "text": {"field": "t"}}}
          ]
        },
        {
          "data": {"name": "tb7"},
          "mark": {"type": "line", "strokeWidth": 1},
          "encoding": {
            "x": {"field": "wl", "type": "quantitative", "scale": {"domain": [331, 679], "nice": false, "zero": false}, "axis": null},
            "y": {"field": "v", "type": "quantitative", "scale": {"domain": [-0.03, 1.104], "nice": false, "zero": false},
              "axis": {"orient": "right", "title": "CL Intensity at 7 K [a.u.]", "titleFontSize": 27, "values": [0,0.1,0.2,0.3,0.4,0.5,0.6,0.7,0.8,0.9,1.0], "format": ".1f", "labelExpr": "round(datum.value*10) % 2 == 0 ? datum.label : ''", "tickSize": {"condition": {"test": "round(datum.value*10) % 2 == 0", "value": 7}, "value": 4}, "labelPadding": 4, "titlePadding": 3, "titleAngle": 270, "titleBaseline": "top", "titleY": 194}},
            "detail": {"field": "s"}
          }
        }
      ]
    }
  ]
}
